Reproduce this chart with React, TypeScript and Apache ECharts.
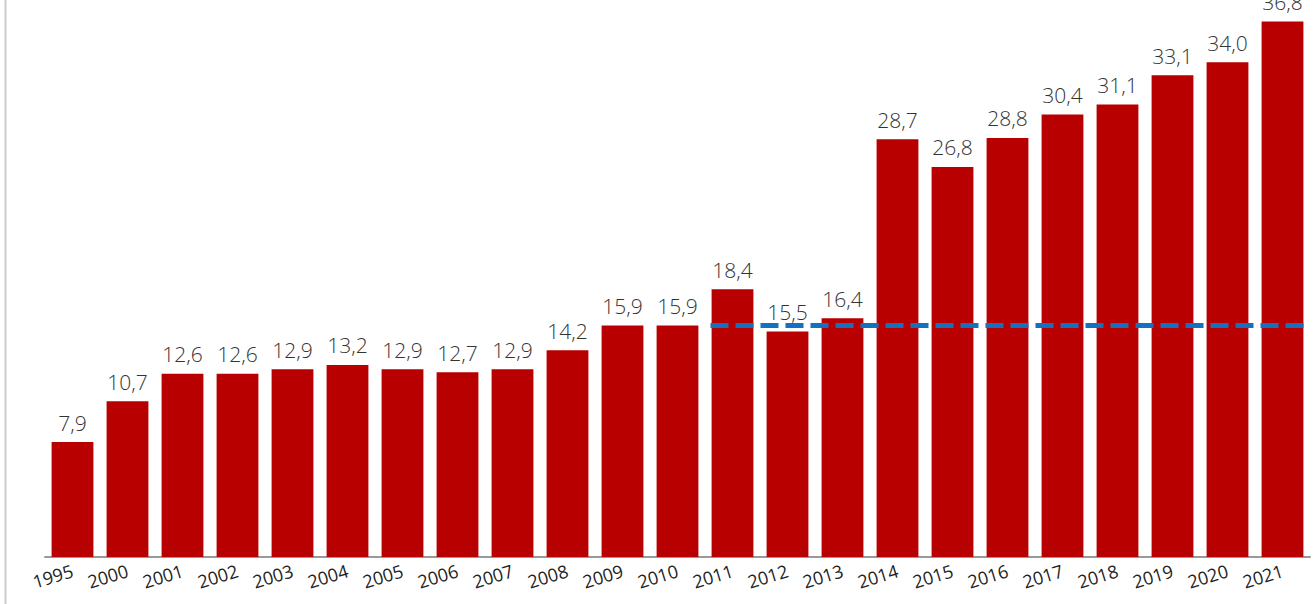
import React, { useEffect, useRef } from "react";
import * as echarts from "echarts";

const years = ["1995","2000","2001","2002","2003","2004","2005","2006","2007","2008","2009","2010","2011","2012","2013","2014","2015","2016","2017","2018","2019","2020","2021"];
const values = [7.9,10.7,12.6,12.6,12.9,13.2,12.9,12.7,12.9,14.2,15.9,15.9,18.4,15.5,16.4,28.7,26.8,28.8,30.4,31.1,33.1,34.0,36.8];
// reference level (dashed line) from 2011 onwards, in category-index units
const refLine = [[12.1, 15.9], [23, 15.9]];

export default function App() {
  const ref = useRef<HTMLDivElement>(null);
  useEffect(() => {
    const chart = echarts.init(ref.current!, null, { renderer: "svg" });
    chart.setOption({
      animation: false,
      grid: { left: 45, right: 3, top: 4, bottom: 47 },
      xAxis: [
        {
          type: "category",
          data: years,
          axisLine: { lineStyle: { color: "#999", width: 2 } },
          axisTick: { length: 6, lineStyle: { color: "#999", width: 2 } },
          axisLabel: {
            rotate: 17,
            interval: 0,
            color: "#222",
            fontSize: 18,
            fontFamily: "Open Sans",
            margin: 13,
          },
        },
        { type: "value", min: 0, max: 23, show: false },
      ],
      yAxis: { type: "value", min: 0, max: 38, show: false, splitLine: { show: false } },
      series: [
        {
          type: "bar",
          data: values,
          barCategoryGap: "24%",
          itemStyle: { color: "#B80000" },
          label: {
            show: true,
            position: "top",
            distance: 9,
            color: "#333",
            fontSize: 21,
            fontWeight: 300,
            fontFamily: "Open Sans",
            formatter: (p: any) => p.value.toFixed(1).replace(".", ","),
          },
        },
        {
          type: "line",
          xAxisIndex: 1,
          data: refLine,
          symbol: "none",
          z: 5,
          lineStyle: { color: "#1570C0", width: 5, type: [18, 7] },
        },
      ],
      graphic: [
        { type: "line", shape: { x1: 5.5, y1: 0, x2: 5.5, y2: 604 }, style: { stroke: "#ccc", lineWidth: 2 } },
      ],
    });
    return () => chart.dispose();
  }, []);
  return <div ref={ref} style={{ position: "absolute", left: 0, top: 0, width: 1313, height: 604, background: "#fff" }} />;
}
